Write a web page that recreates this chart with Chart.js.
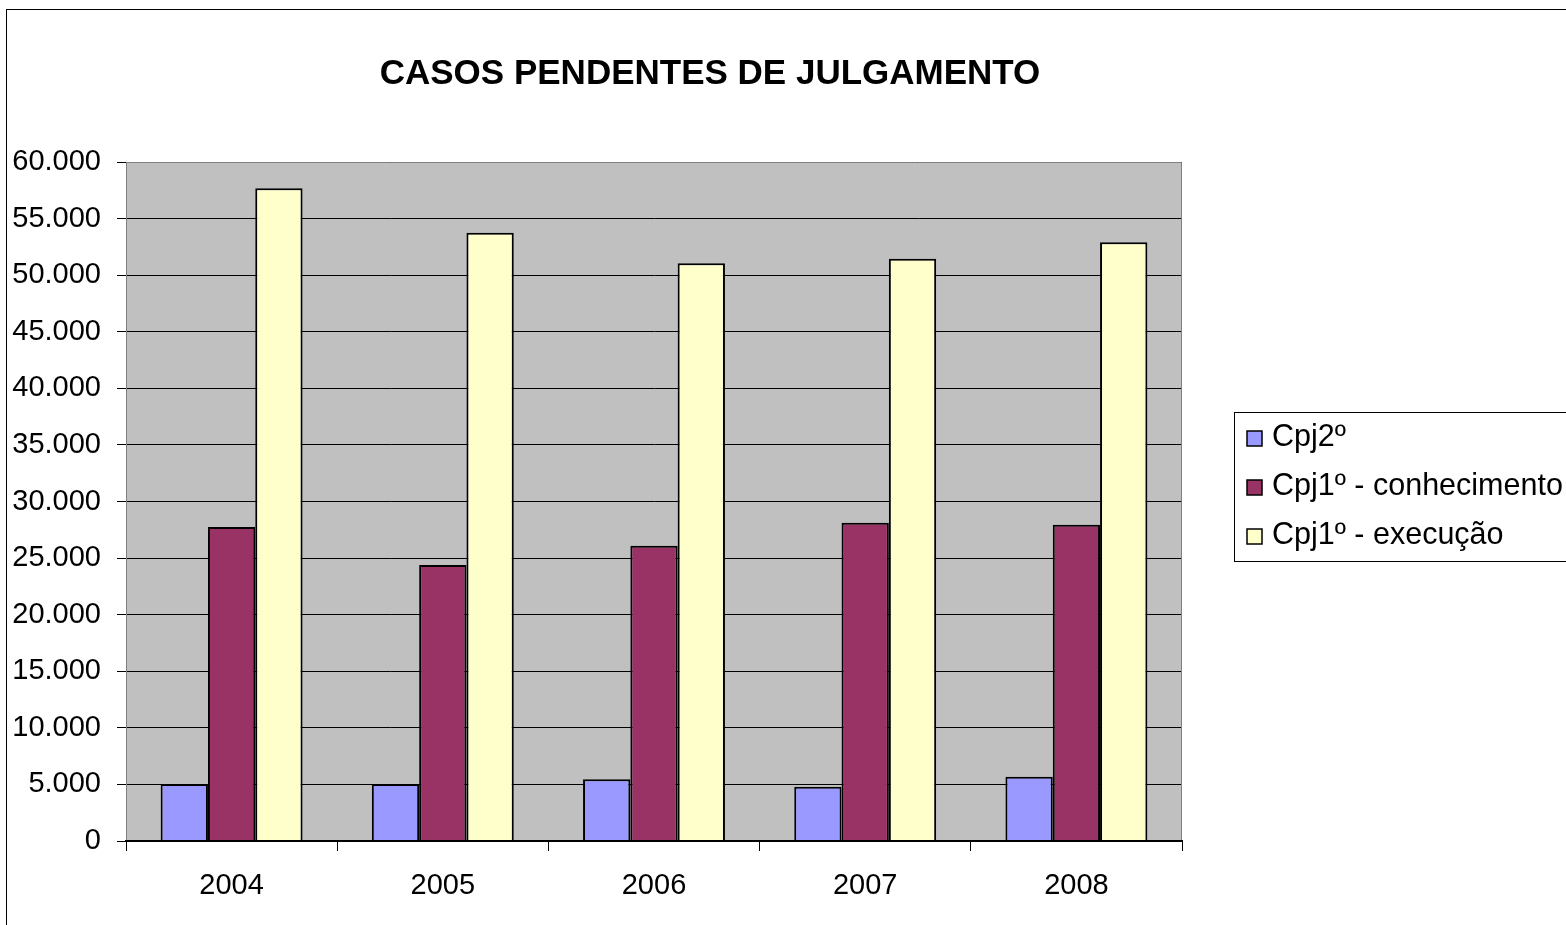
<!DOCTYPE html>
<html>
<head>
<meta charset="utf-8">
<script src="https://cdn.jsdelivr.net/npm/chart.js@4.4.0/dist/chart.umd.min.js"></script>
<style>
html,body{margin:0;padding:0;background:#fff;}
#wrap{width:1566px;height:925px;position:relative;}
</style>
</head>
<body>
<div id="wrap"><canvas id="c" width="1566" height="925"></canvas></div>
<script>
const titleText = 'CASOS PENDENTES DE JULGAMENTO';
const categories = ['2004', '2005', '2006', '2007', '2008'];
const seriesNames = ['Cpj2º', 'Cpj1º - conhecimento', 'Cpj1º - execução'];
const cpj2 = [5040, 5040, 5450, 4800, 5680];
const cpj1Conhecimento = [27750, 24390, 26100, 28130, 27950];
const cpj1Execucao = [57670, 53750, 51050, 51460, 52900];
const yTicks = [0, 5000, 10000, 15000, 20000, 25000, 30000, 35000, 40000, 45000, 50000, 55000, 60000];
const colors = ['#9999FF', '#993366', '#FFFFCC'];

const FONT = 'Liberation Sans, Arial, sans-serif';

function fmt(v){ return String(v).replace(/\B(?=(\d{3})+(?!\d))/g, '.'); }

const framePlugin = {
  id: 'frame',
  beforeDraw(chart){
    const ctx = chart.ctx, a = chart.chartArea;
    ctx.save();
    ctx.fillStyle = '#fff';
    ctx.fillRect(0, 0, chart.width, chart.height);
    ctx.strokeStyle = '#000';
    ctx.lineWidth = 1;
    ctx.strokeRect(6.5, 9.5, 1700, 1000);
    ctx.fillStyle = '#C0C0C0';
    ctx.fillRect(a.left, a.top, a.right - a.left, a.bottom - a.top);
    // title
    ctx.fillStyle = '#000';
    ctx.font = 'bold 35px ' + FONT;
    ctx.textAlign = 'center';
    ctx.textBaseline = 'middle';
    ctx.fillText(titleText, 710, 74);
    ctx.restore();
  },
  afterDatasetsDraw(chart){
    const ctx = chart.ctx, a = chart.chartArea;
    ctx.save();
    ctx.strokeStyle = '#808080';
    ctx.lineWidth = 1;
    ctx.beginPath();
    ctx.moveTo(a.left + 0.5, a.bottom);
    ctx.lineTo(a.left + 0.5, a.top + 0.5);
    ctx.lineTo(a.right - 0.5, a.top + 0.5);
    ctx.lineTo(a.right - 0.5, a.bottom);
    ctx.stroke();
    ctx.strokeStyle = '#000';
    ctx.lineWidth = 2;
    ctx.beginPath();
    ctx.moveTo(a.left, a.bottom);
    ctx.lineTo(a.right, a.bottom);
    ctx.stroke();
    // legend
    ctx.lineWidth = 1;
    ctx.strokeStyle = '#000';
    ctx.strokeRect(1234.5, 412.5, 400, 149);
    ctx.font = '30.5px ' + FONT;
    ctx.textAlign = 'left';
    ctx.textBaseline = 'middle';
    const rows = [438, 487, 536];
    chart.data.datasets.forEach((ds, i) => {
      const y = rows[i];
      ctx.fillStyle = ds.backgroundColor;
      ctx.fillRect(1247, y - 7, 15, 15);
      ctx.lineWidth = 1.5;
      ctx.strokeRect(1247, y - 7, 15, 15);
      ctx.fillStyle = '#000';
      ctx.fillText(ds.label, 1272, y);
    });
    ctx.restore();
  }
};

new Chart(document.getElementById('c'), {
  type: 'bar',
  data: {
    labels: categories,
    datasets: [
      { label: seriesNames[0], data: cpj2, backgroundColor: colors[0] },
      { label: seriesNames[1], data: cpj1Conhecimento, backgroundColor: colors[1] },
      { label: seriesNames[2], data: cpj1Execucao, backgroundColor: colors[2] }
    ].map(d => Object.assign(d, {
      borderColor: '#000', borderWidth: 2, borderSkipped: 'bottom',
      categoryPercentage: 0.672, barPercentage: 1.0
    }))
  },
  options: {
    responsive: false,
    animation: false,
    devicePixelRatio: 1,
    layout: { padding: { left: 0, top: 162, right: 384, bottom: 0 } },
    plugins: { legend: { display: false }, title: { display: false }, tooltip: { enabled: false } },
    scales: {
      x: {
        offset: true,
        afterFit(s){ s.height = 84; },
        grid: { offset: true, drawOnChartArea: false, drawTicks: true, tickLength: 10, color: '#000', lineWidth: 1 },
        border: { display: true, color: '#000', width: 2 },
        ticks: { color: '#000', font: { family: FONT, size: 29 }, padding: 18, maxRotation: 0 }
      },
      y: {
        min: 0, max: 60000,
        afterFit(s){ s.width = 126; },
        afterBuildTicks(s){ s.ticks = yTicks.map(v => ({ value: v })); },
        grid: { color: '#000', lineWidth: 1, drawTicks: true, tickLength: 9 },
        border: { display: true, color: '#808080', width: 1 },
        ticks: { color: '#000', font: { family: FONT, size: 29 }, padding: 16, callback: v => fmt(v) }
      }
    }
  },
  plugins: [framePlugin]
});
</script>
</body>
</html>
